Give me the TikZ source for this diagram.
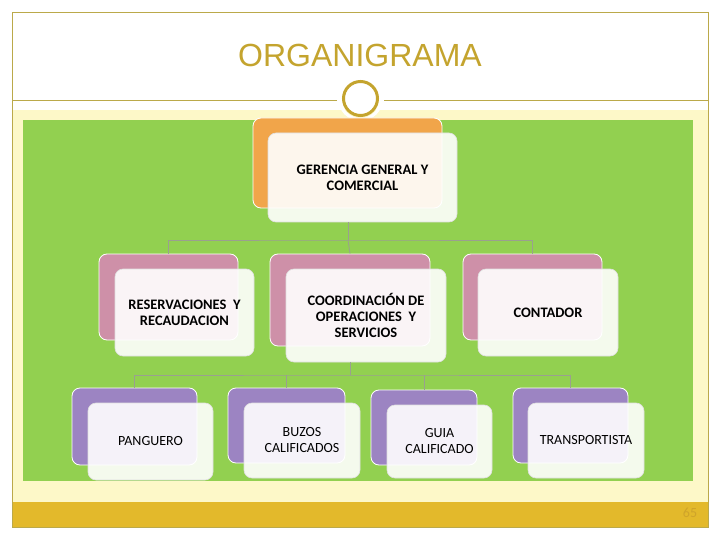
\documentclass[tikz,border=0pt]{standalone}
\usepackage{fontspec}
\setmainfont{Carlito}
\newfontfamily\titlefont{Liberation Sans}
\definecolor{frameol}{HTML}{BBA94A}
\definecolor{titlegold}{HTML}{C4A42E}
\definecolor{paleyel}{HTML}{FDF8C8}
\definecolor{leafgreen}{HTML}{92D050}
\definecolor{goldbar}{HTML}{E3B92B}
\definecolor{numgold}{HTML}{CFA42A}
\definecolor{orangebk}{HTML}{F1A54A}
\definecolor{pinkbk}{HTML}{CE90A8}
\definecolor{purplebk}{HTML}{9C84C2}
\definecolor{connc}{HTML}{9AA08F}
\tikzset{
  backbox/.style={draw=white, line width=0.8pt, rounded corners=8pt, inner sep=0pt},
  frontbox/.style={draw=white!75!gray, line width=0.6pt, rounded corners=8pt, fill=white, fill opacity=0.9, text opacity=1, inner sep=2pt, align=center, font=\fontsize{14}{16}\selectfont},
  boldtxt/.style={font=\fontsize{14.5}{16}\selectfont\bfseries},
  conn/.style={draw=connc, line width=0.8pt},
}
\begin{document}
\begin{tikzpicture}[x=1pt,y=-1pt]
\useasboundingbox (0,0) rectangle (720,540);
\fill[white] (0,0) rectangle (720,540);
% slide background
\fill[paleyel] (12,110) rectangle (708,502);
\fill[leafgreen] (23,120) rectangle (693,481);
\fill[goldbar] (12,502) rectangle (708,527);
\draw[frameol, line width=0.8pt] (12,12) rectangle (708,527);
\draw[frameol, line width=0.8pt] (12,100) -- (337,100);
\draw[frameol, line width=0.8pt] (384,100) -- (708,100);
\node[draw=white, line width=3pt, circle, minimum size=42pt, inner sep=0pt] (ring0) at (360.5,98.5) {};
\node[draw=titlegold, line width=3pt, fill=white, circle, minimum size=34pt, inner sep=0pt] (ring) at (360.5,98.5) {};
\node[font=\titlefont\fontsize{32}{36}\selectfont, text=titlegold] (title) at (360,55) {ORGANIGRAMA};
\node[text=numgold, font=\fontsize{14}{16}\selectfont] (num) at (690,513) {65};

% top node
\node[backbox, fill=orangebk, minimum width=189pt, minimum height=90pt] (b0) at (347.5,163) {};
\node[frontbox, boldtxt, minimum width=189pt, minimum height=89pt] (f0) at (362.5,177.5) {GERENCIA GENERAL Y\\COMERCIAL};

% level 2
\node[backbox, fill=pinkbk, minimum width=139pt, minimum height=86pt] (b1) at (168.5,297) {};
\node[frontbox, boldtxt, minimum width=139pt, minimum height=87pt] (f1) at (184.5,312.5) {RESERVACIONES~~Y\\RECAUDACION};
\node[backbox, fill=pinkbk, minimum width=160pt, minimum height=92pt] (b2) at (350,300) {};
\node[frontbox, boldtxt, minimum width=160pt, minimum height=93pt] (f2) at (366,315.5) {COORDINACIÓN DE\\OPERACIONES~~Y\\SERVICIOS};
\node[backbox, fill=pinkbk, minimum width=139pt, minimum height=86pt] (b3) at (532.5,297) {};
\node[frontbox, boldtxt, minimum width=140pt, minimum height=87pt] (f3) at (548,312.5) {CONTADOR};

% level 3
\node[backbox, fill=purplebk, minimum width=125pt, minimum height=77pt] (b4) at (134.5,426.5) {};
\node[frontbox, minimum width=125pt, minimum height=77pt] (f4) at (150.5,441.5) {PANGUERO};
\node[backbox, fill=purplebk, minimum width=117pt, minimum height=75pt] (b5) at (286.5,425.5) {};
\node[frontbox, minimum width=116pt, minimum height=75pt] (f5) at (302,440.5) {BUZOS\\CALIFICADOS};
\node[backbox, fill=purplebk, minimum width=106pt, minimum height=75pt] (b6) at (424,427.5) {};
\node[frontbox, minimum width=105pt, minimum height=73pt] (f6) at (439.5,441.5) {GUIA\\CALIFICADO};
\node[backbox, fill=purplebk, minimum width=115pt, minimum height=75pt] (b7) at (570.5,425.5) {};
\node[frontbox, minimum width=116pt, minimum height=75pt] (f7) at (586,440.5) {TRANSPORTISTA};

% connectors level 1 -> 2
\coordinate (bus1) at (348,240);
\draw[conn] (f0.south -| bus1) -- (bus1);
\draw[conn] (b1.north) |- (bus1) -| (b3.north);
\draw[conn] (bus1) -- (b2.north);
% connectors level 2 -> 3
\coordinate (bus2) at (350,375);
\draw[conn] (f2.south -| bus2) -- (bus2);
\draw[conn] (b4.north) |- (bus2) -| (b7.north);
\draw[conn] (b5.north) -- (b5.north |- bus2);
\draw[conn] (b6.north) -- (b6.north |- bus2);
\end{tikzpicture}
\end{document}
